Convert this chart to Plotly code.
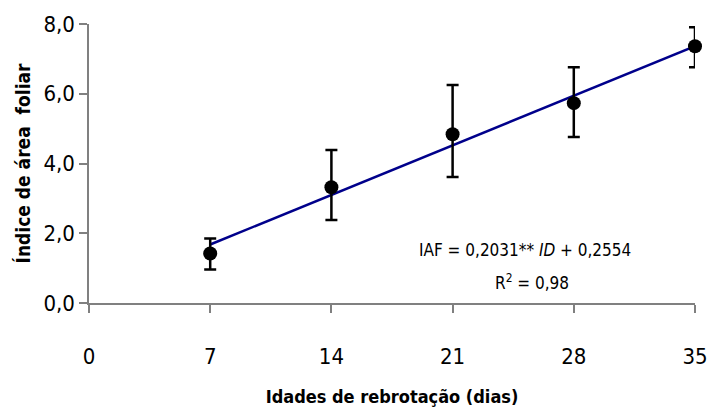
import plotly.graph_objects as go

dias = [7, 14, 21, 28, 35]
iaf = [1.42, 3.32, 4.84, 5.73, 7.36]
err_plus = [0.43, 1.07, 1.41, 1.03, 0.55]
err_minus = [0.46, 0.94, 1.23, 0.97, 0.60]
coef_a = 0.2031
coef_b = 0.2554
fit_x = [7, 35]
fit_y = [coef_a * x + coef_b for x in fit_x]
x_ticks = [0, 7, 14, 21, 28, 35]
y_ticks = [0, 2, 4, 6, 8]
y_ticklabels = ["0,0", "2,0", "4,0", "6,0", "8,0"]

FONT = "Liberation Sans Narrow, DejaVu Sans Condensed, Arial Narrow, sans-serif"

fig = go.Figure()
fig.add_trace(go.Scatter(
    x=fit_x, y=fit_y, mode="lines",
    line=dict(color="#00008B", width=2.5),
    showlegend=False, hoverinfo="skip"))
fig.add_trace(go.Scatter(
    x=dias, y=iaf, mode="markers",
    marker=dict(color="black", size=14),
    error_y=dict(type="data", symmetric=False, array=err_plus, arrayminus=err_minus,
                 color="black", thickness=2.5, width=6),
    cliponaxis=False, showlegend=False))

fig.add_annotation(x=0.72, y=0.19, xref="paper", yref="paper",
                   xanchor="center", yanchor="middle",
                   text="IAF = 0,2031** <i>ID</i> + 0,2554", showarrow=False,
                   font=dict(family=FONT, size=17, color="black"))
fig.add_annotation(x=0.731, y=0.077, xref="paper", yref="paper",
                   xanchor="center", yanchor="middle",
                   text="R<sup>2</sup> = 0,98", showarrow=False,
                   font=dict(family=FONT, size=17, color="black"))

fig.update_layout(
    width=708, height=410,
    margin=dict(l=89, r=13, t=24, b=107),
    plot_bgcolor="white", paper_bgcolor="white",
    font=dict(family=FONT, color="black"),
    xaxis=dict(range=[0, 35], tickvals=x_ticks, ticks="outside", ticklen=8,
               tickcolor="#808080", tickwidth=1.5,
               showline=True, linecolor="#808080", linewidth=1.5,
               showgrid=False, zeroline=False, automargin=False,
               tickfont=dict(size=22, family=FONT), ticklabelstandoff=25,
               title=dict(text="<b>Idades de rebrotação (dias)</b>",
                          font=dict(size=18, family=FONT), standoff=22)),
    yaxis=dict(range=[0, 8], tickvals=y_ticks, ticktext=y_ticklabels,
               ticks="outside", ticklen=8, tickcolor="#808080", tickwidth=1.5,
               showline=True, linecolor="#808080", linewidth=1.5,
               showgrid=False, zeroline=False, automargin=False,
               tickfont=dict(size=22, family=FONT),
               title=dict(text="<b>Índice de área  foliar</b>",
                          font=dict(size=19, family=FONT), standoff=8)),
)
fig.write_html("out.html", config={"displayModeBar": False},
               post_script="document.body.style.margin='0';")
